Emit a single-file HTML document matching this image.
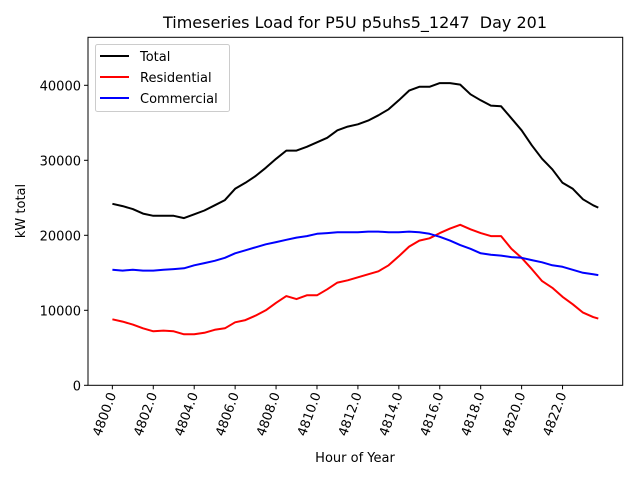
<!DOCTYPE html>
<html><head><meta charset="utf-8"><style>body{margin:0;background:#fff}svg{display:block;font-family:"DejaVu Sans","Liberation Sans",sans-serif}</style></head>
<body>
<svg id="chart" width="640" height="480" xmlns="http://www.w3.org/2000/svg"></svg>
<script>
const hours=[4800,4800.5,4801,4801.5,4802,4802.5,4803,4803.5,4804,4804.5,4805,4805.5,4806,4806.5,4807,4807.5,4808,4808.5,4809,4809.5,4810,4810.5,4811,4811.5,4812,4812.5,4813,4813.5,4814,4814.5,4815,4815.5,4816,4816.5,4817,4817.5,4818,4818.5,4819,4819.5,4820,4820.5,4821,4821.5,4822,4822.5,4823,4823.5,4823.75];
const totalLoad=[24200,23900,23500,22900,22600,22600,22600,22300,22800,23300,24000,24700,26200,27000,27900,29000,30200,31300,31300,31800,32400,33000,34000,34500,34800,35300,36000,36800,38000,39300,39800,39800,40300,40300,40100,38800,38000,37300,37200,35600,34000,32000,30200,28800,27000,26200,24800,24000,23700];
const residentialLoad=[8800,8500,8100,7600,7200,7300,7200,6800,6800,7000,7400,7600,8400,8700,9300,10000,11000,11900,11500,12000,12000,12800,13700,14000,14400,14800,15200,16000,17200,18500,19300,19600,20300,20900,21400,20800,20300,19900,19900,18200,17000,15500,13900,13000,11800,10800,9700,9100,8900];
const commercialLoad=[15400,15300,15400,15300,15300,15400,15500,15600,16000,16300,16600,17000,17600,18000,18400,18800,19100,19400,19700,19900,20200,20300,20400,20400,20400,20500,20500,20400,20400,20500,20400,20200,19800,19300,18700,18200,17600,17400,17300,17100,17000,16700,16400,16000,15800,15400,15000,14800,14700];
const xTicks=[4800,4802,4804,4806,4808,4810,4812,4814,4816,4818,4820,4822];
const yTicks=[0,10000,20000,30000,40000];

const L=88,R=622.7,T=37.3,B=385.3;
const xMin=4798.81,xMax=4824.94,yMin=0,yMax=46400;
const X=v=>L+(v-xMin)/(xMax-xMin)*(R-L);
const Y=v=>B-(v-yMin)/(yMax-yMin)*(B-T);
const svg=document.getElementById('chart');
const NS='http://www.w3.org/2000/svg';
function mk(tag,attrs,parent){const e=document.createElementNS(NS,tag);for(const k in attrs)e.setAttribute(k,attrs[k]);(parent||svg).appendChild(e);return e;}

let t=mk('text',{x:355,y:28,'text-anchor':'middle','font-size':'16'});t.textContent='Timeseries Load for P5U p5uhs5_1247\u00a0 Day 201';



const series=[[totalLoad,'#000','series-total'],[residentialLoad,'#f00','series-residential'],[commercialLoad,'#00f','series-commercial']];
series.forEach(([vals,col,name])=>{
  const p=mk('polyline',{points:vals.map((v,i)=>X(hours[i]).toFixed(1)+','+Y(v).toFixed(1)).join(' '),fill:'none',stroke:col,'stroke-width':2,'stroke-linejoin':'round'});
  
  
});

const frame=mk('rect',{x:L,y:T,width:R-L,height:B-T,fill:'none',stroke:'#000','stroke-width':1});



xTicks.forEach(v=>{
  const x=X(v);
  mk('line',{x1:x,y1:B,x2:x,y2:B+4,stroke:'#000'});
  const lb=mk('text',{x:0,y:0,'text-anchor':'end','font-size':'13',transform:`translate(${x+4},${B+9}) rotate(-70)`});
  lb.textContent=v.toFixed(1);
  
  
});
yTicks.forEach(v=>{
  const y=Y(v);
  mk('line',{x1:L-4,y1:y,x2:L,y2:y,stroke:'#000'});
  const lb=mk('text',{x:L-7,y:y+5,'text-anchor':'end','font-size':'13'});
  lb.textContent=String(v);
  
  
});
let xl=mk('text',{x:355,y:462,'text-anchor':'middle','font-size':'13'});xl.textContent='Hour of Year';


let yl=mk('text',{x:0,y:0,'text-anchor':'middle','font-size':'13',transform:`translate(25,211) rotate(-90)`});yl.textContent='kW total';



const lg=mk('g',{});


mk('rect',{x:95.5,y:44.5,width:134,height:67,rx:2,fill:'#fff',stroke:'#ccc'},lg);
[['Total','#000'],['Residential','#f00'],['Commercial','#00f']].forEach(([n,c],i)=>{
  const y=56+i*21;
  mk('line',{x1:100,y1:y,x2:129,y2:y,stroke:c,'stroke-width':2},lg);
  const tx=mk('text',{x:140,y:y+5,'font-size':'13'},lg);tx.textContent=n;
  
  
});
</script>
</body></html>
